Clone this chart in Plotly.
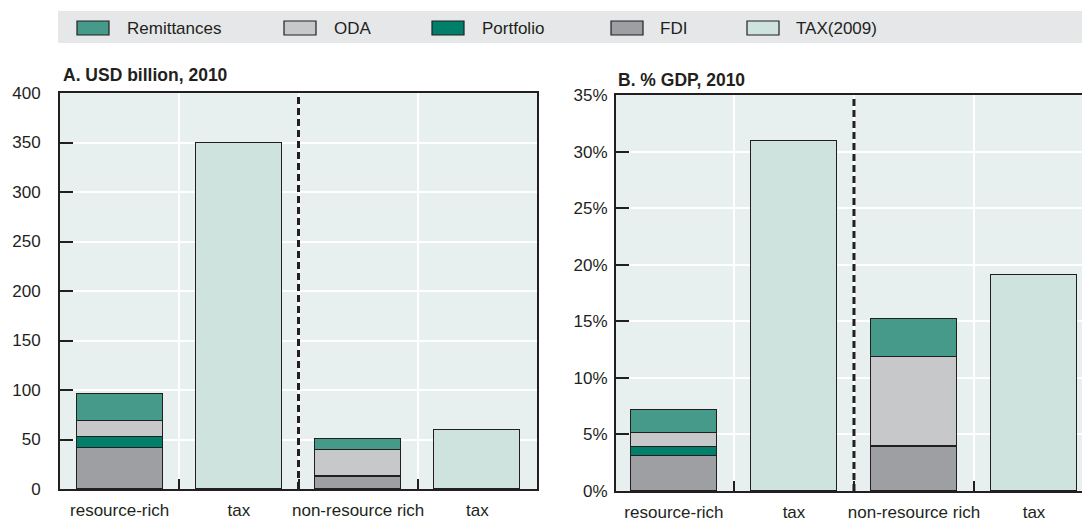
import plotly.graph_objects as go

# ---------------- data ----------------
categories = ["resource-rich", "tax", "non-resource rich", "tax"]

# Panel A: USD billion, 2010
usd_fdi = [41.5, 12.5]
usd_portfolio = [11.2, 0.5]
usd_oda = [15.5, 26.5]
usd_remittances = [27.7, 11.5]
usd_tax = [350, 60]

# Panel B: % GDP, 2010
gdp_fdi = [3.07, 3.85]
gdp_portfolio = [0.83, 0.15]
gdp_oda = [1.25, 7.8]
gdp_remittances = [1.99, 3.4]
gdp_tax = [30.9, 19.1]

series_names = ["Remittances", "ODA", "Portfolio", "FDI", "TAX(2009)"]

# ---------------- styles ----------------
FONT = "Liberation Sans, Arial, sans-serif"
FS = 17
DARK = "#231f20"
COL = {
    "Remittances": "#459a89",
    "ODA": "#c7c8ca",
    "Portfolio": "#00806b",
    "FDI": "#9e9fa3",
    "TAX(2009)": "#cfe3de",
}
PLOT_BG = "#e8f0ef"
BAR_W = 0.72
W, H = 1082, 522

fig = go.Figure()

group_x = [0, 2]
tax_x = [1, 3]


def add_panel(xa, ya, fdi, port, oda, rem, tax, fmt):
    for name, vals in [("FDI", fdi), ("Portfolio", port), ("ODA", oda), ("Remittances", rem)]:
        fig.add_trace(go.Bar(
            x=group_x, y=vals, name=name, width=BAR_W,
            marker=dict(color=COL[name], line=dict(color=DARK, width=1.3)),
            xaxis=xa, yaxis=ya, showlegend=False,
            hovertemplate=name + ": %{y" + fmt + "}<extra></extra>",
        ))
    fig.add_trace(go.Bar(
        x=tax_x, y=tax, name="TAX(2009)", width=BAR_W,
        marker=dict(color=COL["TAX(2009)"], line=dict(color=DARK, width=1.3)),
        xaxis=xa, yaxis=ya, showlegend=False,
        hovertemplate="TAX(2009): %{y" + fmt + "}<extra></extra>",
    ))


add_panel("x", "y", usd_fdi, usd_portfolio, usd_oda, usd_remittances, usd_tax, "")
add_panel("x2", "y2", gdp_fdi, gdp_portfolio, gdp_oda, gdp_remittances, gdp_tax, ":.1f")


def px_x(p):
    return p / W


def px_y(p):
    return 1 - p / H


xcommon = dict(
    tickmode="array", tickvals=[0, 1, 2, 3], ticktext=categories,
    ticks="", showgrid=False, zeroline=False,
    showline=True, linecolor=DARK, linewidth=2,
    tickfont=dict(family=FONT, size=FS, color=DARK),
    ticklabelstandoff=5, automargin=False,
    minor=dict(tickvals=[0.5, 1.5, 2.5], ticks="inside", ticklen=10,
               tickwidth=1.5, tickcolor=DARK, showgrid=True,
               gridcolor="white", gridwidth=1.5),
    fixedrange=True,
)
ycommon = dict(
    ticks="inside", ticklen=13, tickwidth=1.5, tickcolor=DARK,
    showgrid=True, gridcolor="white", gridwidth=1.5, zeroline=False,
    showline=True, linecolor=DARK, linewidth=2,
    tickfont=dict(family=FONT, size=FS, color=DARK),
    automargin=False, fixedrange=True,
)

fig.update_layout(
    width=W, height=H,
    margin=dict(l=0, r=0, t=0, b=0, autoexpand=False),
    paper_bgcolor="white", plot_bgcolor=PLOT_BG,
    barmode="stack", bargap=0,
    showlegend=False,
    font=dict(family=FONT, color=DARK),
    xaxis=dict(xcommon, domain=[px_x(60), px_x(537)], range=[-0.5, 3.5],
               anchor="y", mirror=True),
    yaxis=dict(ycommon, domain=[px_y(489), px_y(93)], range=[0, 400], dtick=50,
               anchor="x", mirror=True, ticklabelstandoff=14),
    xaxis2=dict(xcommon, domain=[px_x(616), 1], range=[-0.483, 3.4],
                anchor="y2", mirror=True),
    yaxis2=dict(ycommon, domain=[px_y(491), px_y(95)], range=[0, 35], dtick=5,
                ticksuffix="%", anchor="x2", mirror=False, ticklabelstandoff=3),
)

shapes = []
# dashed separators between groups
for xr, yr in [("x", "y domain"), ("x2", "y2 domain")]:
    shapes.append(dict(type="line", xref=xr, yref=yr, x0=1.5, x1=1.5, y0=0, y1=1,
                       line=dict(color=DARK, width=3, dash="7px,4px"), layer="above"))

# legend band
shapes.append(dict(type="rect", xref="paper", yref="paper",
                   x0=px_x(58), x1=1, y0=px_y(43), y1=px_y(11),
                   fillcolor="#e6e7e8", line=dict(width=0), layer="below"))

legend_swatch_x = [77, 284, 432, 611, 747]
legend_text_x = [125, 332, 480, 658, 794]
annotations = []
for name, sx, tx in zip(series_names, legend_swatch_x, legend_text_x):
    shapes.append(dict(type="rect", xref="paper", yref="paper",
                       x0=px_x(sx), x1=px_x(sx + 32), y0=px_y(35), y1=px_y(21),
                       fillcolor=COL[name], line=dict(color=DARK, width=1.2)))
    annotations.append(dict(text=name, xref="paper", yref="paper",
                            x=px_x(tx), y=px_y(28), xanchor="left", yanchor="middle",
                            showarrow=False, font=dict(family=FONT, size=FS, color=DARK)))

annotations.append(dict(text="<b>A. USD billion, 2010</b>", xref="paper", yref="paper",
                        x=px_x(61), y=px_y(75), xanchor="left", yanchor="middle",
                        showarrow=False, font=dict(family=FONT, size=17.5, color=DARK)))
annotations.append(dict(text="<b>B. % GDP, 2010</b>", xref="paper", yref="paper",
                        x=px_x(616), y=px_y(80), xanchor="left", yanchor="middle",
                        showarrow=False, font=dict(family=FONT, size=17.5, color=DARK)))

fig.update_layout(shapes=shapes, annotations=annotations)

fig.write_html(
    "out.html",
    config={"displayModeBar": False},
    post_script="document.body.style.margin='0';document.body.style.padding='0';"
                "document.body.style.overflow='hidden';"
                "document.documentElement.style.overflow='hidden';",
)
